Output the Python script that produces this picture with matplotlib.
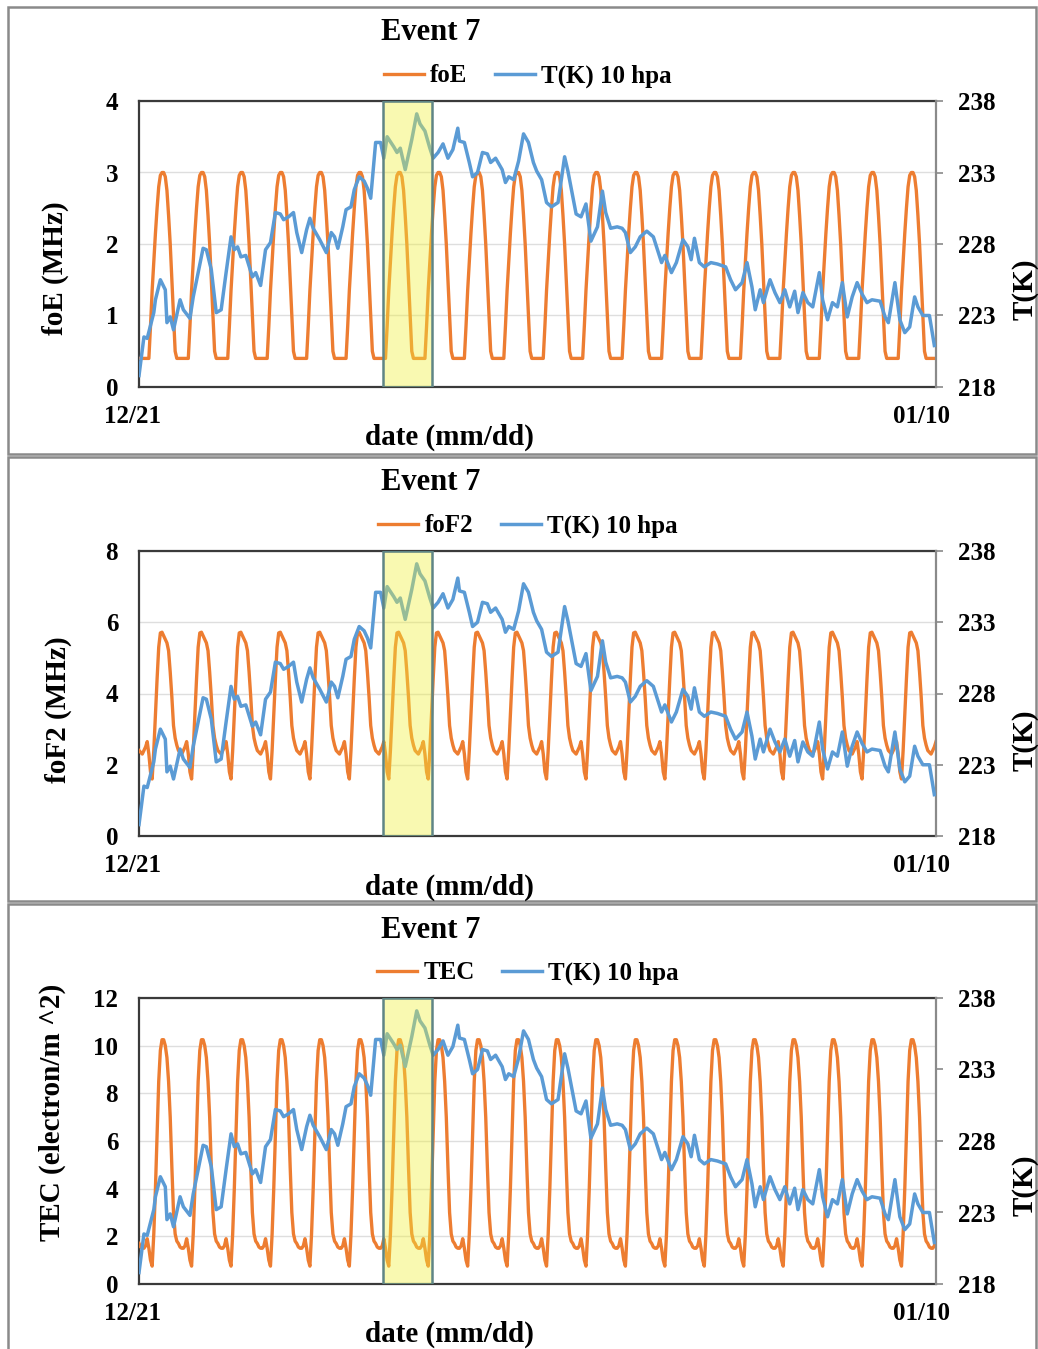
import numpy as np
import matplotlib
matplotlib.use("Agg")
import matplotlib.pyplot as plt
from matplotlib.patches import Rectangle
import matplotlib.transforms as mtransforms

plt.rcParams['font.family'] = ['Liberation Serif', 'DejaVu Serif']
plt.rcParams['font.weight'] = 'bold'

# ---------------------------------------------------------------- data
# hours since 12/21 00:00 (the record runs to 01/10 05:00)
n_hours = 486
date_labels = ["12/21", "01/10"]
event_start_h, event_end_h = 148.5, 178.3

# stratospheric temperature at 10 hPa (K)
temp_hours = [
    0, 3, 5, 9, 10, 13, 16, 17, 19, 21,
    25, 27, 31, 33, 36, 39, 41, 44, 47, 50,
    53, 56, 58, 60, 62, 65, 69, 71, 74, 77,
    80, 83, 86, 88, 91, 94, 96, 99, 102, 104,
    106, 110, 114, 117, 119, 121, 124, 126, 129, 131,
    134, 137, 139, 141, 144, 147, 149, 151, 155, 157,
    159, 162, 166, 169, 171, 174, 177, 179, 182, 185,
    188, 191, 194, 195, 198, 201, 203, 206, 209, 212,
    214, 217, 218, 221, 223, 225, 228, 231, 234, 237,
    240, 242, 245, 248, 251, 255, 259, 261, 264, 266,
    269, 272, 275, 279, 282, 284, 287, 291, 294, 296,
    299, 302, 305, 309, 313, 318, 320, 324, 327, 331,
    334, 336, 338, 341, 344, 348, 352, 357, 360, 363,
    367, 370, 373, 375, 378, 380, 384, 387, 390, 393,
    396, 399, 401, 404, 407, 410, 414, 416, 419, 422,
    425, 428, 431, 434, 437, 440, 443, 446, 451, 454,
    456, 460, 463, 466, 469, 472, 474, 477, 481, 484,
]
temp_k = [
    218.8, 221.5, 221.4, 223.2, 224.1, 225.5, 224.8, 222.5, 222.9, 222.0,
    224.1, 223.4, 222.8, 224.3, 226.0, 227.7, 227.6, 226.2, 223.2, 223.4,
    226.0, 228.5, 227.6, 227.8, 227.1, 227.2, 225.7, 226.0, 225.1, 227.6,
    228.1, 230.2, 230.1, 229.7, 229.9, 230.2, 228.8, 227.4, 229.0, 229.8,
    229.1, 228.3, 227.4, 228.8, 228.5, 227.7, 229.2, 230.4, 230.6, 231.8,
    232.7, 232.4, 231.9, 231.2, 235.1, 235.1, 234.0, 235.5, 234.8, 234.4,
    234.7, 233.2, 235.3, 237.1, 236.4, 235.9, 234.7, 234.0, 234.4, 235.0,
    234.0, 234.6, 236.1, 235.2, 235.1, 233.7, 232.7, 233.0, 234.4, 234.3,
    233.7, 234.0, 233.8, 233.2, 232.3, 232.7, 232.5, 233.8, 235.7, 235.1,
    233.7, 233.1, 232.5, 230.9, 230.6, 230.9, 234.1, 233.1, 231.3, 230.1,
    229.9, 230.8, 228.2, 229.2, 231.7, 230.2, 229.1, 229.2, 229.1, 228.8,
    227.4, 227.8, 228.5, 228.9, 228.5, 226.7, 227.2, 226.0, 226.7, 228.3,
    227.8, 226.9, 228.4, 226.7, 226.4, 226.7, 226.6, 226.4, 225.5, 224.8,
    225.3, 226.7, 225.0, 223.4, 224.8, 223.9, 225.5, 224.6, 223.9, 224.8,
    223.6, 224.7, 223.2, 224.6, 223.9, 223.6, 226.0, 224.1, 222.7, 223.9,
    223.6, 225.3, 222.9, 224.3, 225.3, 224.5, 223.9, 224.1, 224.0, 222.9,
    222.5, 225.3, 222.7, 221.8, 222.2, 224.3, 223.6, 223.0, 223.0, 220.9,
]

# hourly diurnal profiles (hour 0 .. 23), identical every day of the record
foE_day = [0.4, 0.4, 0.4, 0.4, 0.4, 0.4, 0.4, 0.85, 1.35, 1.75, 2.15, 2.5,
           2.8, 2.96, 3.0, 3.0, 2.94, 2.75, 2.4, 2.0, 1.5, 1.0, 0.5, 0.4]
foF2_day = [2.4, 2.35, 2.3, 2.4, 2.5, 2.65, 2.3, 1.8, 1.6, 2.4, 3.4, 4.4,
            5.3, 5.7, 5.72, 5.62, 5.52, 5.42, 5.2, 4.6, 3.9, 3.1, 2.75, 2.55]
tec_day = [1.7, 1.55, 1.5, 1.5, 1.6, 1.9, 1.5, 1.0, 0.75, 2.1, 4.0, 6.3,
           8.5, 9.8, 10.25, 10.25, 10.0, 9.5, 8.5, 7.0, 4.9, 3.0, 2.1, 1.8]

# ---------------------------------------------------------------- layout
W, H, DPI = 1038, 1349, 100
ORANGE = '#ED7D31'
BLUE = '#5B9BD5'

fig = plt.figure(figsize=(W / DPI, H / DPI), dpi=DPI)
fig.patch.set_facecolor('white')


def fx(px):
    return px / W


def fy(py):
    return 1 - py / H


panels = [
    dict(name='foE', ylabel='foE (MHz)', ymax=4, ystep=1, day=foE_day,
         top=101, bottom=387, frame=(7, 454), ylab_x=55, ylab_y=268,
         tk_y=289),
    dict(name='foF2', ylabel='foF2 (MHz)', ymax=8, ystep=2, day=foF2_day,
         top=551, bottom=836, frame=(457, 901), ylab_x=58, ylab_y=710,
         tk_y=740),
    dict(name='TEC', ylabel='TEC (electron/m ^2)', ymax=12, ystep=2,
         day=tec_day, top=998, bottom=1284, frame=(904, 1355), ylab_x=52,
         ylab_y=1112, tk_y=1185),
]

hours = np.arange(n_hours)
x_left, x_right = 139, 936

for p in panels:
    # chart-area frame
    f0, f1 = p['frame']
    fig.add_artist(Rectangle((fx(8), fy(f1)), fx(1036) - fx(8), fy(f0) - fy(f1),
                             transform=fig.transFigure, fill=False,
                             edgecolor='#8a8a8a', lw=1.8, zorder=0))

    ax = fig.add_axes([fx(x_left), fy(p['bottom']), fx(x_right) - fx(x_left),
                       fy(p['top']) - fy(p['bottom'])])
    series = np.tile(p['day'], n_hours // 24 + 1)[:n_hours]
    l1, = ax.plot(hours, series, color=ORANGE, lw=2.4, label=p['name'],
                  zorder=3, solid_joinstyle='round')
    ax.set_xlim(0, n_hours - 1)
    ax.set_ylim(0, p['ymax'])
    ax.set_yticks(np.arange(0, p['ymax'] + 0.01, p['ystep']))
    ax.yaxis.grid(True, color='#dedede', lw=1.0)
    ax.set_axisbelow(True)
    ax.tick_params(axis='y', length=0, pad=15, labelsize=18)
    ax.set_xticks([0, n_hours - 1])
    ax.set_xticklabels(date_labels)
    ax.tick_params(axis='x', length=0, pad=13, labelsize=18)
    shifts = [-7, -14]
    for lab, dxp in zip(ax.get_xticklabels(), shifts):
        lab.set_transform(lab.get_transform() +
                          mtransforms.ScaledTranslation(dxp / DPI, 0,
                                                        fig.dpi_scale_trans))
    for side in ['left', 'top', 'bottom']:
        ax.spines[side].set_color('#3a3a3a')
        ax.spines[side].set_linewidth(1.6)
    ax.spines['right'].set_visible(False)

    ax2 = ax.twinx()
    l2, = ax2.plot(temp_hours, temp_k, color=BLUE, lw=2.5,
                   label='T(K) 10 hpa', zorder=4, solid_joinstyle='round')
    ax2.set_ylim(218, 238)
    ax2.set_yticks(np.arange(218, 238.1, 5))
    ax2.tick_params(axis='y', length=5, width=1.2, color='#8a8a8a', pad=11,
                    labelsize=18)
    ax2.spines['right'].set_color('#8a8a8a')
    ax2.spines['right'].set_linewidth(1.6)
    for side in ['left', 'top', 'bottom']:
        ax2.spines[side].set_visible(False)
    ax2.axvspan(event_start_h, event_end_h, facecolor='#f0f03c', alpha=0.4,
                edgecolor='none', zorder=6)
    ax2.axvspan(event_start_h, event_end_h, facecolor='none',
                edgecolor='#5f8585', lw=1.8, zorder=7)

    # titles, legend and axis labels
    off = p['top'] - 101
    fig.text(fx(431), fy(33 + off), 'Event 7', ha='center', va='center',
             fontsize=22)
    fig.legend([l1, l2], [p['name'], 'T(K) 10 hpa'], loc='center',
               bbox_to_anchor=(fx(528), fy(76 + off)), ncol=2, frameon=False,
               fontsize=18, handlelength=1.6, handletextpad=0.25,
               columnspacing=1.1, borderpad=0)
    fig.text(fx(449), fy(437 + off), 'date (mm/dd)', ha='center',
             va='center', fontsize=21)
    fig.text(fx(p['ylab_x']), fy(p['ylab_y']), p['ylabel'], rotation=90,
             ha='center', va='center', fontsize=21)
    fig.text(fx(1025), fy(p['tk_y']), 'T(K)', rotation=90, ha='center',
             va='center', fontsize=21)

fig.savefig('out.png', dpi=DPI)
